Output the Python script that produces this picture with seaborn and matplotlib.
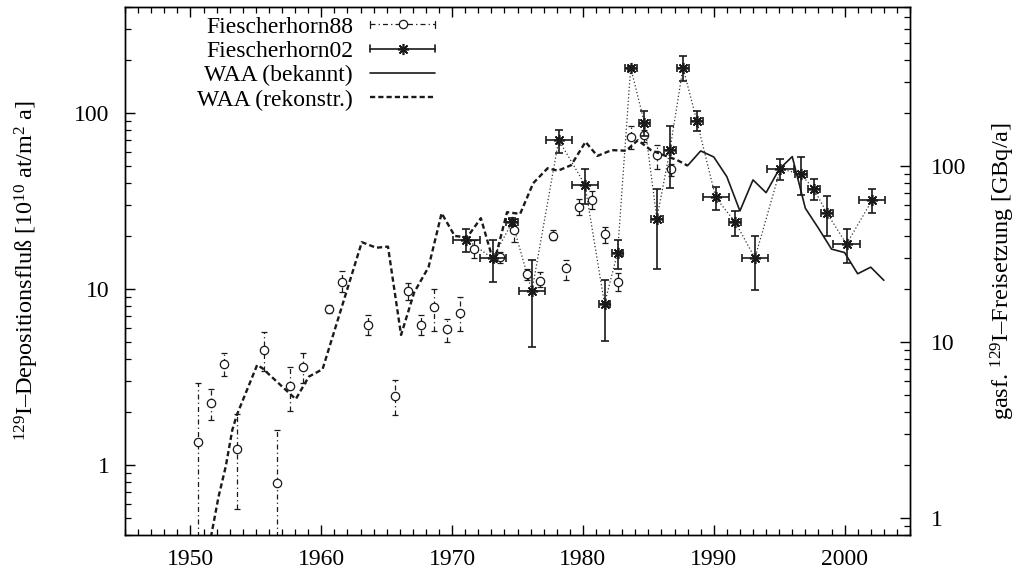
import matplotlib
matplotlib.use("Agg")
import matplotlib.pyplot as plt
import seaborn as sns
import numpy as np
from matplotlib.lines import Line2D
from matplotlib.legend_handler import HandlerBase
from matplotlib.ticker import FixedLocator, FixedFormatter, LogLocator, NullFormatter, MultipleLocator

# --- Fiescherhorn 1988 core: deposition flux [1e10 at/m^2 a] ---
f88_year = [1950.55, 1951.55, 1952.6, 1953.57, 1955.6, 1956.6, 1957.6, 1958.6,
            1960.6, 1961.6, 1963.6, 1965.6, 1966.6, 1967.6, 1968.6, 1969.6,
            1970.6, 1971.7, 1973.7, 1974.7, 1975.7, 1976.7, 1977.7, 1978.7,
            1979.7, 1980.7, 1981.7, 1982.7, 1983.7, 1984.7, 1985.7, 1986.7]
f88_val = [1.35, 2.26, 3.73, 1.24, 4.52, 0.79, 2.82, 3.6,
           7.71, 10.9, 6.25, 2.48, 9.77, 6.25, 7.92, 5.9,
           7.34, 16.8, 15.2, 21.5, 12.1, 11.1, 20.1, 13.2,
           29.3, 31.9, 20.4, 10.9, 72.7, 75.0, 57.4, 47.8]
f88_lo = [0.1, 1.8, 3.2, 0.56, 3.43, 0.1, 2.03, 2.94,
          7.3, 9.6, 5.44, 1.92, 8.7, 5.44, 5.8, 4.97,
          5.8, 14.9, 14.0, 18.4, 11.2, 10.2, 18.9, 11.3,
          26.4, 28.3, 18.3, 9.8, 62.3, 68.7, 48.0, 43.7]
f88_hi = [2.94, 2.7, 4.3, 1.94, 5.67, 1.58, 3.62, 4.3,
          8.1, 12.6, 7.07, 3.05, 10.8, 7.07, 10.0, 6.77,
          9.0, 18.9, 16.3, 24.9, 13.0, 12.5, 21.6, 14.7,
          32.6, 35.9, 22.6, 12.3, 84.0, 80.0, 66.0, 51.0]

# --- Fiescherhorn 2002 core ---
f02_year = [1971.1, 1973.1, 1974.6, 1976.1, 1978.15, 1980.15, 1981.65, 1982.65,
            1983.65, 1984.7, 1985.65, 1986.65, 1987.65, 1988.7, 1990.15, 1991.65,
            1993.15, 1995.1, 1996.65, 1997.65, 1998.65, 2000.15, 2002.1]
f02_val = [19.1, 14.9, 24.0, 9.72, 70.2, 39.2, 8.23, 16.1,
           181.0, 88.0, 25.1, 61.5, 181.0, 90.4, 33.1, 23.9,
           15.0, 48.2, 44.9, 37.0, 27.0, 18.0, 31.9]
f02_xerr = [1.0, 1.0, 0.45, 1.0, 1.0, 1.0, 0.45, 0.45,
            0.45, 0.45, 0.45, 0.45, 0.45, 0.45, 1.0, 0.45,
            1.0, 1.0, 0.45, 0.45, 0.45, 1.0, 1.0]
f02_lo = [16.2, 11.0, 22.8, 4.66, 59.3, 30.3, 5.09, 12.9,
          176.0, 73.9, 13.0, 37.6, 152.0, 78.5, 28.0, 20.0,
          9.9, 41.6, 34.2, 32.2, 20.0, 14.0, 27.0]
f02_hi = [21.8, 18.9, 25.2, 14.7, 80.4, 47.9, 11.3, 18.9,
          186.0, 103.0, 37.2, 84.3, 211.0, 102.0, 38.0, 27.8,
          20.0, 54.7, 56.0, 42.0, 33.8, 21.8, 37.0]

# --- WAA gaseous 129I release [GBq/a], known ---
waa_known_year = [1988, 1989, 1990, 1991, 1992, 1993, 1994, 1995,
                  1996, 1997, 1998, 1999, 2000, 2001, 2002, 2003]
waa_known_val = [100.4, 121.7, 112.5, 86.9, 55.5, 83.3, 70.5, 95.8,
                 113.0, 57.5, 44.3, 33.7, 32.2, 24.4, 26.6, 22.4]

# --- WAA gaseous 129I release [GBq/a], reconstructed ---
waa_rec_year = [1951.45, 1952.15, 1952.7, 1953.2, 1953.55, 1955.1, 1955.5, 1958.05,
                1959.05, 1960.1, 1963.1, 1964.2, 1965.1, 1966.1, 1967.1, 1968.2,
                1969.2, 1970.2, 1971.15, 1972.2, 1973.2, 1974.2, 1975.2, 1976.2,
                1977.3, 1978.1, 1979.1, 1980.2, 1981.1, 1982.2, 1983.3, 1984.2,
                1985.2, 1986.2, 1987.2, 1988.0]
waa_rec_val = [0.7, 1.32, 1.96, 3.16, 3.85, 7.4, 7.09, 4.73,
               6.35, 7.0, 36.9, 34.3, 34.8, 10.96, 19.1, 26.6,
               53.9, 40.0, 39.3, 50.5, 28.0, 54.6, 53.4, 79.8,
               97.0, 94.0, 101.0, 137.0, 114.0, 123.0, 122.0, 140.0,
               123.0, 115.0, 108.0, 100.4]

legend_labels = ["Fiescherhorn88", "Fiescherhorn02", "WAA (bekannt)", "WAA (rekonstr.)"]
x_ticks = [1950, 1960, 1970, 1980, 1990, 2000]
y_ticks = [1, 10, 100]
y_ticklabels = ["1", "10", "100"]

FS = 17

sns.set_theme(style="ticks")
plt.rcParams.update({
    "font.family": ["Liberation Serif", "DejaVu Serif"],
    "font.size": FS,
    "xtick.labelsize": FS,
    "ytick.labelsize": FS,
    "axes.labelsize": FS,
    "legend.fontsize": FS,
    "mathtext.fontset": "custom",
    "mathtext.rm": "Liberation Serif",
    "mathtext.it": "Liberation Serif:italic",
    "mathtext.bf": "Liberation Serif:bold",
    "text.color": "black",
    "axes.labelcolor": "black",
    "axes.edgecolor": "black",
    "axes.linewidth": 1.0,
    "xtick.color": "black",
    "ytick.color": "black",
})

fig = plt.figure(figsize=(10.29, 5.73), dpi=100)
ax = fig.add_axes([125 / 1029, 1 - 535 / 573, 785 / 1029, 528 / 573])
ax2 = ax.twinx()

DASHDOT = (0, (4, 2.5, 1, 2.5))
DASHED = (0, (2.2, 1.3))
DOTTED = (0, (1, 1.8))

# Fiescherhorn88: open circles with dash-dot vertical error bars
f88_v = np.array(f88_val)
eb = ax.errorbar(f88_year, f88_val,
                 yerr=[f88_v - np.array(f88_lo), np.array(f88_hi) - f88_v],
                 fmt="o", ms=6, mfc="white", mec="k", mew=0.9,
                 ecolor="k", elinewidth=0.9, capsize=2.5, capthick=0.9, zorder=3)
eb[2][0].set_linestyle(DASHDOT)

# Fiescherhorn02: thin dotted connection plus asterisks with x/y error bars
sns.lineplot(x=f02_year, y=f02_val, ax=ax, color="0.2", lw=0.9,
             linestyle=DOTTED, estimator=None, sort=False, zorder=2)
f02_v = np.array(f02_val)
ax.errorbar(f02_year, f02_val, xerr=f02_xerr,
            yerr=[f02_v - np.array(f02_lo), np.array(f02_hi) - f02_v],
            fmt="none", ecolor="k", elinewidth=1.2, capsize=3, capthick=1.2, zorder=4)
ax.plot(f02_year, f02_val, ls="none", marker=(8, 2, 0), ms=8, mec="k", mew=1.2, zorder=5)

# WAA releases on the right-hand axis
sns.lineplot(x=waa_rec_year, y=waa_rec_val, ax=ax2, color="k", lw=1.7,
             linestyle=DASHED, estimator=None, sort=False)
sns.lineplot(x=waa_known_year, y=waa_known_val, ax=ax2, color="k", lw=1.2,
             estimator=None, sort=False)

# axes, scales, ticks
ax.set_xlim(1945, 2005)
ax.set_yscale("log")
ax.set_ylim(0.4, 400)
ax2.set_yscale("log")
ax2.set_ylim(0.8, 800)

ax.xaxis.set_major_locator(FixedLocator(x_ticks))
ax.xaxis.set_minor_locator(MultipleLocator(1))
for a in (ax, ax2):
    a.yaxis.set_major_locator(FixedLocator(y_ticks))
    a.yaxis.set_major_formatter(FixedFormatter(y_ticklabels))
    a.yaxis.set_minor_locator(LogLocator(base=10, subs=np.arange(2, 10)))
    a.yaxis.set_minor_formatter(NullFormatter())

ax.tick_params(axis="x", which="both", direction="in", top=True, bottom=True, pad=10)
ax.tick_params(axis="x", which="major", length=7, width=1.0)
ax.tick_params(axis="x", which="minor", length=4, width=0.9)
ax.tick_params(axis="y", which="both", direction="in", left=True, right=False, pad=11)
ax.tick_params(axis="y", which="major", length=7, width=1.0)
ax.tick_params(axis="y", which="minor", length=4, width=0.9)
ax2.tick_params(axis="y", which="both", direction="in", left=False, right=True, pad=15)
ax2.tick_params(axis="y", which="major", length=7, width=1.0)
ax2.tick_params(axis="y", which="minor", length=4, width=0.9)
ax.set_xlabel("")

ax.set_ylabel(r"$^{129}$I–Depositionsfluß [10$^{10}$ at/m$^{2}$ a]", fontsize=17.5)
ax.yaxis.set_label_coords(-0.107, 0.5)
ax2.set_ylabel(r"gasf. $^{129}$I–Freisetzung [GBq/a]", fontsize=17.5)
ax2.yaxis.set_label_coords(1.100, 0.5)


class ErrbarKey(HandlerBase):
    """Legend key drawn as a horizontal line with optional end caps and centre marker."""

    def __init__(self, ls="-", lw=1.0, caps=False, marker=None, ms=0, mew=1.0):
        super().__init__()
        self.ls, self.lw, self.caps = ls, lw, caps
        self.marker, self.ms, self.mew = marker, ms, mew

    def create_artists(self, legend, orig_handle, xdescent, ydescent,
                       width, height, fontsize, trans):
        y = height / 2 - ydescent
        x0, x1 = -xdescent, width - xdescent
        arts = [Line2D([x0, x1], [y, y], color="k", lw=self.lw, linestyle=self.ls)]
        if self.caps:
            h = 2.6
            arts.append(Line2D([x0, x0], [y - h, y + h], color="k", lw=self.lw))
            arts.append(Line2D([x1, x1], [y - h, y + h], color="k", lw=self.lw))
        if self.marker is not None:
            arts.append(Line2D([(x0 + x1) / 2], [y], ls="none", marker=self.marker,
                               ms=self.ms, mfc="white", mec="k", mew=self.mew))
        for a in arts:
            a.set_transform(trans)
        return arts


proxies = [Line2D([], []) for _ in legend_labels]
hmap = {
    proxies[0]: ErrbarKey(ls=DASHDOT, lw=0.9, caps=True, marker="o", ms=6, mew=0.9),
    proxies[1]: ErrbarKey(ls="-", lw=1.2, caps=True, marker=(8, 2, 0), ms=8, mew=1.2),
    proxies[2]: ErrbarKey(ls="-", lw=1.2),
    proxies[3]: ErrbarKey(ls=DASHED, lw=1.7),
}
leg = ax2.legend(proxies, legend_labels, handler_map=hmap, loc="upper right",
                 bbox_to_anchor=(435 / 1029, 1 - 16 / 573), bbox_transform=fig.transFigure,
                 frameon=False, markerfirst=False, borderpad=0, borderaxespad=0,
                 handlelength=2.75, handletextpad=0.72, labelspacing=0.12, fontsize=FS)

fig.savefig("out.png", dpi=100)
